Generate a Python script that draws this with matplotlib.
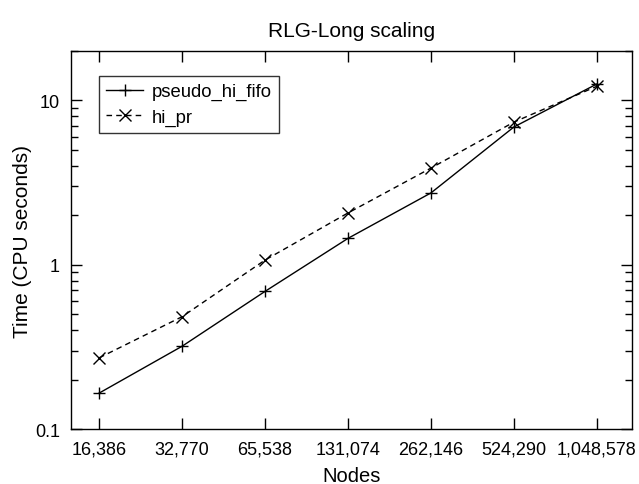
import numpy as np
import matplotlib.pyplot as plt
from matplotlib.ticker import LogLocator, FixedLocator, NullFormatter

plt.rcParams['font.family'] = ['Liberation Sans', 'DejaVu Sans']

# data
nodes = ['16,386', '32,770', '65,538', '131,074', '262,146', '524,290', '1,048,578']
pseudo_hi_fifo = [0.166, 0.32, 0.69, 1.45, 2.74, 6.9, 12.6]
hi_pr = [0.272, 0.484, 1.07, 2.07, 3.88, 7.39, 12.2]

fig = plt.figure(figsize=(6.39, 4.85), dpi=100)
ax = fig.add_axes([0.111, 0.1128, 0.8776, 0.78])

x = np.arange(len(nodes))
ax.plot(x, pseudo_hi_fifo, color='black', lw=1, ls='-', marker='+', ms=9, mew=1,
        label='pseudo_hi_fifo')
ax.plot(x, hi_pr, color='black', lw=1, ls=(0, (4, 3)), marker='x', ms=8, mew=1,
        label='hi_pr')

ax.set_yscale('log')
ax.set_ylim(0.1, 20)
ax.set_xlim(-0.34, 6.42)
ax.set_xticks(x)
ax.set_xticklabels(nodes, fontsize=13)
ax.yaxis.set_major_locator(FixedLocator([0.1, 1, 10]))
ax.set_yticklabels(['0.1', '1', '10'], fontsize=13)
ax.yaxis.set_minor_locator(LogLocator(base=10, subs=np.arange(2, 10)))
ax.yaxis.set_minor_formatter(NullFormatter())

ax.tick_params(which='both', direction='in', top=True, right=True, width=1, color='black')
ax.tick_params(which='major', length=8)
ax.tick_params(which='minor', length=5)
ax.tick_params(axis='x', pad=8)
ax.tick_params(axis='y', pad=8)
for s in ax.spines.values():
    s.set_linewidth(1)

ax.set_xlabel('Nodes', fontsize=14.5, labelpad=6)
ax.set_ylabel('Time (CPU seconds)', fontsize=15, labelpad=2)
ax.set_title('RLG-Long scaling', fontsize=15, pad=11)

leg = ax.legend(loc='upper left', bbox_to_anchor=(0.05, 0.935), borderaxespad=0,
                fontsize=13.3, frameon=True, fancybox=False, edgecolor='black',
                borderpad=0.4, handlelength=2.0, handletextpad=0.45, labelspacing=0.45)
leg.get_frame().set_linewidth(1)

fig.savefig('out.png', dpi=100)
